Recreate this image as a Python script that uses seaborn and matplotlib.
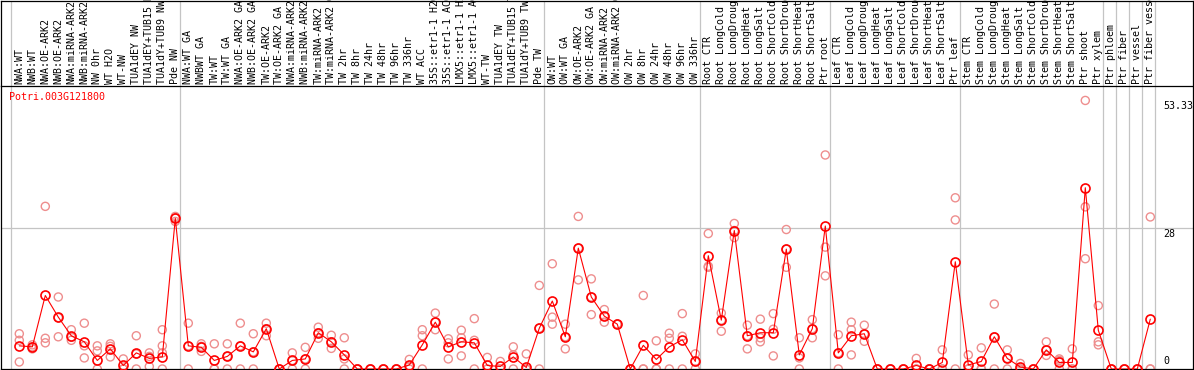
import numpy as np
import pandas as pd
import matplotlib
matplotlib.use("Agg")
import matplotlib.pyplot as plt
import seaborn as sns
from matplotlib.transforms import blended_transform_factory

title = "Potri.003G121800"

labels = [
    "NWA:WT", "NWB:WT", "NWA:OE-ARK2", "NWB:OE-ARK2", "NWA:miRNA-ARK2", "NWB:miRNA-ARK2",
    "NW 0hr", "WT H2O", "WT-NW", "TUA1dEY NW", "TUA1dEY+TUB15 NW", "TUA1dY+TUB9 NW", "Pde NW",
    "NWA:WT GA", "NWBWT GA", "TW:WT", "TW:WT GA", "NWA:OE-ARK2 GA", "NWB:OE-ARK2 GA",
    "TW:OE-ARK2", "TW:OE-ARK2 GA", "NWA:miRNA-ARK2 GA", "NWB:miRNA-ARK2 GA", "TW:miRNA-ARK2",
    "TW:miRNA-ARK2 GA", "TW 2hr", "TW 8hr", "TW 24hr", "TW 48hr", "TW 96hr", "TW 336hr",
    "WT ACC", "35S::etr1-1 H2O", "35S::etr1-1 ACC", "LMX5::etr1-1 H2O", "LMX5::etr1-1 ACC",
    "WT-TW", "TUA1dEY TW", "TUA1dEY+TUB15 TW", "TUA1dY+TUB9 TW", "Pde TW",
    "OW:WT", "OW:WT GA", "OW:OE-ARK2", "OW:OE-ARK2 GA", "OW:miRNA-ARK2", "OW:miRNA-ARK2 GA",
    "OW 2hr", "OW 8hr", "OW 24hr", "OW 48hr", "OW 96hr", "OW 336hr",
    "Root CTR", "Root LongCold", "Root LongDrought", "Root LongHeat", "Root LongSalt",
    "Root ShortCold", "Root ShortDrought", "Root ShortHeat", "Root ShortSalt", "Ptr root",
    "Leaf CTR", "Leaf LongCold", "Leaf LongDrought", "Leaf LongHeat", "Leaf LongSalt",
    "Leaf ShortCold", "Leaf ShortDrought", "Leaf ShortHeat", "Leaf ShortSalt", "Ptr leaf",
    "Stem CTR", "Stem LongCold", "Stem LongDrought", "Stem LongHeat", "Stem LongSalt",
    "Stem ShortCold", "Stem ShortDrought", "Stem ShortHeat", "Stem ShortSalt", "Ptr shoot",
    "Ptr xylem", "Ptr phloem", "Ptr fiber", "Ptr vessel", "Ptr fiber vessel",
]

means = [
    4.6, 4.4, 14.6, 10.3, 6.6, 5.4, 1.7, 4.0, 0.7, 3.2, 2.1, 2.4, 29.9,
    4.6, 4.3, 1.7, 2.5, 4.6, 3.4, 8.0, 0, 1.7, 2.0, 7.2, 5.4, 2.8, 0, 0, 0, 0,
    0.8, 4.8, 9.3, 4.4, 5.4, 5.2, 0.7, 0.5, 2.4, 0.3, 8.1,
    13.5, 6.4, 24.0, 14.3, 10.5, 8.9, 0, 4.7, 1.9, 4.4, 5.8, 1.5,
    22.5, 9.7, 27.5, 6.6, 7.2, 7.2, 23.8, 2.8, 8.0, 28.4,
    3.2, 6.6, 7.0, 0, 0, 0, 0.7, 0, 1.3, 21.3,
    0.8, 1.5, 6.4, 2.1, 0.4, 0, 3.8, 1.3, 1.3, 36.0, 7.7,
    0, 0, 0, 9.9,
]

replicates = [
    [7.0, 5.7, 1.4], [4.8, 4.0, 4.4], [32.3, 6.1, 5.2], [14.3, 10.2, 6.4],
    [7.8, 6.3, 5.7], [9.1, 4.6, 2.2], [4.6, 3.6, 0.0], [5.0, 4.5, 2.4],
    [2.0, 0.0, 0.0], [6.6, 3.0, 0.0], [3.2, 2.5, 0.5], [7.8, 4.6, 3.2, 0.0],
    [30.3, 29.3, 30.0],
    [9.1, 4.6, 0.0], [5.0, 4.5, 3.5], [5.0, 0.0, 0.0], [5.0, 2.5, 0.0],
    [9.1, 4.6, 0.0], [7.0, 3.4, 0.0], [9.1, 8.0, 6.6], [0.0, 0.0, 0.0],
    [3.2, 1.7, 0.0], [4.3, 2.0, 0.0], [8.3, 7.2, 6.1], [6.7, 5.4, 4.1],
    [6.2, 2.0, 0.0], [0.0, 0.0, 0.0], [0.0, 0.0, 0.0], [0.0, 0.0, 0.0],
    [0.0, 0.0, 0.0], [1.9, 0.5, 0.0], [7.8, 6.6, 0.0], [11.1, 9.3, 7.8],
    [6.0, 5.2, 2.0], [7.7, 6.2, 2.6], [10.0, 5.7, 0.0], [2.3, 0.0, 0.0],
    [1.5, 0.0, 0.0], [4.4, 2.8, 0.0], [3.0, 0.0, 0.0], [16.6, 8.1, 0.0],
    [20.9, 10.3, 8.9], [8.9, 6.4, 4.0], [30.3, 24.0, 17.7], [17.9, 14.3, 10.8],
    [11.8, 10.5, 9.3], [8.9, 8.9, 8.9], [0.0, 0.0, 0.0], [14.6, 0.0, 0.0],
    [5.6, 0.0, 0.0], [7.1, 6.1, 0.0], [11.0, 6.5, 0.0], [3.0, 1.5, 0.0],
    [26.9, 20.4, 20.2], [11.1, 9.7, 7.5], [28.9, 27.5, 26.1], [8.7, 6.6, 4.0],
    [9.9, 6.2, 5.4], [11.0, 7.9, 2.6], [27.7, 23.8, 20.2], [6.2, 2.2, 0.0],
    [9.8, 8.0, 6.2], [42.5, 24.2, 18.5],
    [6.8, 3.2, 0.0], [9.3, 7.8, 2.8], [8.7, 7.0, 5.5], [0.0, 0.0, 0.0],
    [0.0, 0.0, 0.0], [0.0, 0.0, 0.0], [2.1, 0.0, 0.0], [0.0, 0.0, 0.0],
    [3.8, 0.0, 0.0], [34.0, 29.6, 0.0],
    [2.8, 0.0, 0.0], [4.2, 0.0, 0.0], [12.9, 6.4, 0.0], [3.8, 2.1, 0.0],
    [1.1, 0.0, 0.0], [0.0, 0.0, 0.0], [5.4, 3.8, 2.7], [2.0, 1.7, 0.0],
    [4.0, 0.0, 0.0], [53.33, 32.2, 21.9], [12.6, 5.4, 4.8],
    [0.0, 0.0, 0.0], [0.0, 0.0, 0.0], [0.0, 0.0, 0.0], [30.2, 0.0, 0.0],
]

group_starts = [0, 13, 41, 53, 63, 73, 84, 85, 86, 87, 88]
y_marks = [0, 28, 53.33]

# ---------------------------------------------------------------
sns.set_theme(style="white")
plt.rcParams["font.family"] = ["DejaVu Sans Mono", "DejaVu Sans"]

W, H = 1194, 370
SEP = 86          # pixel row of label / plot separator
BOT = 369         # pixel row of the zero line
fig = plt.figure(figsize=(W / 100, H / 100), dpi=100)

ax = fig.add_axes([1 / W, (H - BOT) / H, (1193 - 1) / W, (BOT - SEP) / H])
axl = fig.add_axes([1 / W, (H - SEP) / H, (1193 - 1) / W, (SEP - 0.6) / H])

x0px, step = 19.3, 13.0
xlim = ((1 - x0px) / step, (1193 - x0px) / step)
ppu = (369 - 228) / 28.0
ylim = (0, (BOT - SEP) / ppu)

grid_c = "#C4C4C4"

# replicates
rep_x, rep_y = [], []
for i, vals in enumerate(replicates):
    for v in vals:
        rep_x.append(i)
        rep_y.append(v)
df_rep = pd.DataFrame({"x": rep_x, "y": rep_y})
df_mean = pd.DataFrame({"x": np.arange(len(means)), "y": means})

for g in group_starts:
    ax.axvline(g - 0.66, color=grid_c, lw=0.9, zorder=0)
    axl.axvline(g - 0.66, color=grid_c, lw=0.9, zorder=0)
ax.axhline(28, color=grid_c, lw=0.9, zorder=0)

sns.scatterplot(data=df_rep, x="x", y="y", ax=ax, s=34, color="#EE8E8E",
                legend=False, zorder=2)
coll = ax.collections[-1]
coll.set_facecolor("none")
coll.set_edgecolor("#EE8E8E")
coll.set_linewidth(1.0)

sns.lineplot(data=df_mean, x="x", y="y", ax=ax, color="red", lw=0.8,
             marker="o", markersize=6.5, markerfacecolor="none",
             markeredgecolor="red", markeredgewidth=1.2, zorder=3)

ax.set_xlim(*xlim)
ax.set_ylim(*ylim)
ax.set_xticks([])
ax.set_yticks([])
ax.set_xlabel("")
ax.set_ylabel("")
for s in ["left", "right", "bottom"]:
    ax.spines[s].set_color("black")
    ax.spines[s].set_linewidth(0.9)
ax.spines["top"].set_visible(False)

tr = blended_transform_factory(ax.transAxes, ax.transData)
tx = (1163 - 1) / (1193 - 1)
for v in y_marks:
    lab = "0" if v == 0 else ("28" if v == 28 else f"{v:.2f}")
    if v == 0:
        ax.text(tx, 0.6, lab, transform=tr, ha="left", va="bottom",
                fontsize=7.2, color="black")
    else:
        ax.text(tx, v - 0.2, lab, transform=tr, ha="left", va="top",
                fontsize=7.2, color="black")

fig.text(9.5 / W, 1 - 97 / H, title, ha="left", va="center",
         fontsize=7.2, color="red")

axl.set_xlim(*xlim)
axl.set_ylim(0, 1)
axl.set_xticks([])
axl.set_yticks([])
for s in ["left", "right", "bottom", "top"]:
    axl.spines[s].set_color("black")
    axl.spines[s].set_linewidth(0.9)
ly = (SEP - 84) / SEP
for i, lab in enumerate(labels):
    axl.text(i, ly, lab, rotation=90, ha="center", va="bottom",
             fontsize=7.2, color="black", clip_on=False)

fig.savefig("out.png", dpi=100)
